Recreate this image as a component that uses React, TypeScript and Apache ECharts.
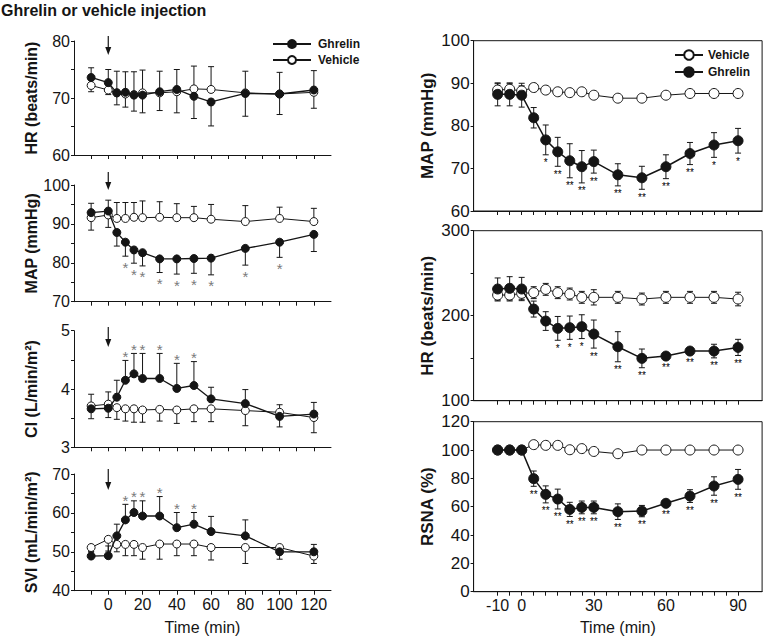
import React, { useEffect, useRef } from 'react';
import * as echarts from 'echarts';

// ---------- DATA ----------
const leftTimes = [-10, 0, 5, 10, 15, 20, 30, 40, 50, 60, 80, 100, 120];
const rightTimes = [-10, -5, 0, 5, 10, 15, 20, 25, 30, 40, 50, 60, 70, 80, 90];

// Left: HR (beats/min)
const lHrGhrelin = [73.6, 72.7, 70.9, 71.0, 70.5, 70.5, 71.1, 71.5, 70.3, 69.3, 70.8, 70.7, 71.4];
const lHrGhrelinErr = [1.7, 2.3, 3.8, 3.6, 4.1, 4.4, 3.6, 3.5, -3.9, -4.2, 3.9, 3.8, 3.4];
const lHrVehicle = [72.2, 71.4, 70.9, 70.7, 70.6, 70.9, 70.9, 71.1, 71.6, 71.5, 70.9, 70.7, 71.0];
const lHrVehicleErr = [-1.1, -0.8, -2.1, -2.3, -2.9, -3.5, -3.1, -3.7, 4.0, 4.0, -4.1, -3.6, -2.8];
const noStars = ['', '', '', '', '', '', '', '', '', '', '', '', '', '', ''];

// Left: MAP (mmHg)
const lMapGhrelin = [92.9, 93.3, 87.8, 85.3, 83.3, 82.6, 81.0, 81.0, 81.1, 81.2, 83.7, 85.3, 87.3];
const lMapGhrelinErr = [-4.5, -4.2, -3.5, -3.6, -3.4, -3.4, -3.5, -3.9, -3.8, -4.3, -4.3, -3.9, -4.4];
const lMapVehicle = [91.6, 92.3, 91.4, 91.4, 91.7, 91.6, 91.7, 91.6, 91.6, 91.2, 90.6, 91.4, 90.6];
const lMapVehicleErr = [3.7, 3.8, 4.1, 4.1, 3.8, 4.3, 4.0, 3.6, 2.9, 3.8, 4.1, 2.9, 3.4];
const lMapStars = ['', '', '', '*', '*', '*', '*', '*', '*', '*', '*', '*', ''];

// Left: CI (L/min/m2)
const lCiGhrelin = [3.66, 3.67, 3.86, 4.15, 4.26, 4.18, 4.18, 4.01, 4.06, 3.83, 3.75, 3.53, 3.57];
const lCiGhrelinErr = [0.25, 0.28, 0.29, 0.34, 0.35, 0.43, 0.43, 0.43, 0.41, 0.2, 0.24, 0.2, 0.2];
const lCiVehicle = [3.71, 3.74, 3.68, 3.66, 3.66, 3.64, 3.65, 3.64, 3.66, 3.66, 3.63, 3.6, 3.51];
const lCiVehicleErr = [-0.22, -0.23, -0.2, -0.21, -0.23, -0.21, -0.2, -0.23, -0.22, -0.22, -0.26, -0.25, -0.26];
const lCiStars = ['', '', '', '*', '*', '*', '*', '*', '*', '', '', '', ''];

// Left: SVI (mL/min/m2)
const lSviGhrelin = [48.9, 49.0, 54.1, 58.2, 60.1, 59.2, 59.2, 56.2, 57.1, 55.2, 54.1, 50.0, 50.0];
const lSviGhrelinErr = [1.0, 2.5, 3.0, 4.0, 3.0, 3.9, 5.0, 3.9, 3.0, 3.9, 4.1, 1.6, 1.9];
const lSviVehicle = [51.1, 53.2, 51.9, 51.9, 51.9, 51.1, 52.0, 52.0, 52.0, 51.1, 51.1, 51.1, 48.9];
const lSviVehicleErr = [-1.0, -3.0, -1.9, -2.9, -2.9, -3.0, -3.9, -3.0, -3.0, -3.2, -4.1, -3.0, -1.9];
const lSviStars = ['', '', '', '*', '*', '*', '*', '*', '*', '', '', '', ''];

// Right: MAP (mmHg)
const rMapVehicle = [88.4, 88.6, 88.2, 89.0, 88.4, 88.0, 87.8, 88.0, 87.2, 86.5, 86.5, 87.2, 87.6, 87.6, 87.6];
const rMapVehicleErr = [1.5, 1.3, 1.2, 0.8, 0.8, 0.8, 0.8, 0.8, 0.8, 0.8, 0.8, 0.8, 0.8, 0.8, 0.8];
const rMapGhrelin = [87.4, 87.4, 87.2, 81.9, 76.7, 73.9, 71.8, 70.4, 71.6, 68.5, 67.8, 70.4, 73.5, 75.5, 76.5];
const rMapGhrelinErr = [2.7, 2.7, 2.8, 2.4, 3.5, 3.4, 4.0, 3.8, 2.7, 2.6, 2.7, 2.8, 2.6, 2.9, 2.9];
const rMapStars = ['', '', '', '', '*', '**', '**', '**', '**', '**', '**', '**', '**', '*', '*'];

// Right: HR (beats/min)
const rHrVehicle = [224.3, 224.3, 226.3, 227.1, 231.0, 227.1, 225.5, 221.6, 221.6, 221.6, 219.6, 221.6, 221.6, 221.6, 219.6];
const rHrVehicleErr = [7, 7, 7, 7, 7, 7, 7, 7, 9, 7, 7, 7, 7, 7, 8];
const rHrGhrelin = [231.4, 232.2, 231.4, 207.8, 193.7, 185.1, 185.9, 187.1, 178.4, 163.5, 149.8, 152.5, 158.4, 158.4, 162.7];
const rHrGhrelinErr = [13, 13.7, 13.7, 9.4, 11, 14, 13.7, 14, 16.5, 17.7, 11, 4, 4, 8, 9.5];
const rHrStars = ['', '', '', '', '', '*', '*', '*', '**', '**', '**', '**', '**', '**', '**'];

// Right: RSNA (%)
const rRsnaVehicle = [100, 100, 100, 103.8, 103.3, 103.3, 100.2, 101, 99, 97.4, 100, 100, 100, 100, 100];
const rRsnaVehicleErr = [0.8, 0.8, 0.8, 0.8, 0.8, 0.8, 0.8, 0.8, 0.8, 0.8, 0.8, 0.8, 0.8, 0.8, 0.8];
const rRsnaGhrelin = [100, 100, 100, 79.8, 68.7, 65.4, 58.1, 59.5, 59.5, 56.5, 56.9, 62.4, 67.5, 74.6, 79.3];
const rRsnaGhrelinErr = [1, 1, 1, 5.4, 6, 7, 5, 4.5, 4.5, 5.5, 4, 2, 4.5, 6.5, 7];
const rRsnaStars = ['', '', '', '**', '**', '**', '**', '**', '**', '**', '**', '**', '**', '**', '**'];

// Axis ticks / labels
const leftXTicks = [-10, 0, 10, 20, 30, 40, 50, 60, 70, 80, 90, 100, 110, 120];
const leftXLabels = [0, 20, 40, 60, 80, 100, 120];
const rightXTicks = [-10, -5, 0, 5, 10, 15, 20, 25, 30, 35, 40, 45, 50, 55, 60, 65, 70, 75, 80, 85, 90];
const rightXLabels = [-10, 0, 30, 60, 90];

const lHrTicks = [60, 65, 70, 75, 80];
const lHrLabels = [60, 70, 80];
const lMapTicks = [70, 75, 80, 85, 90, 95, 100];
const lMapLabels = [70, 80, 90, 100];
const lCiTicks = [3, 3.5, 4, 4.5, 5];
const lCiLabels = [3, 4, 5];
const lSviTicks = [40, 45, 50, 55, 60, 65, 70];
const lSviLabels = [40, 50, 60, 70];
const rMapTicks = [60, 70, 80, 90, 100];
const rHrTicks = [100, 150, 200, 250, 300];
const rHrLabels = [100, 200, 300];
const rRsnaTicks = [0, 20, 40, 60, 80, 100, 120];

const FONT = "'Liberation Sans', Arial, Helvetica, sans-serif";
const INK = '#151515';

function lineSeries(name: string, times: number[], vals: number[], idx: number, filled: boolean, size: number, width: number, z: number) {
  return {
    type: 'line',
    name,
    xAxisIndex: idx,
    yAxisIndex: idx,
    data: times.map((t, i) => [t, vals[i]]),
    symbol: 'circle',
    symbolSize: size,
    showAllSymbol: true,
    lineStyle: { color: INK, width },
    itemStyle: { color: filled ? INK : '#ffffff', borderColor: INK, borderWidth: 1 },
    emphasis: { disabled: true },
    silent: true,
    z,
  };
}

function errSeries(
  times: number[], vals: number[], errs: number[], idx: number, sym: boolean,
  stars: string[], starAbove: boolean, starColor: string, starSize: number, starOffset: number, capW: number
) {
  return {
    type: 'custom',
    xAxisIndex: idx,
    yAxisIndex: idx,
    clip: false,
    silent: true,
    z: 1,
    data: times.map((t, i) => [t, vals[i], errs[i]]),
    renderItem: (params: any, api: any) => {
      const i = params.dataIndex;
      const x = api.value(0);
      const y = api.value(1);
      const e = api.value(2);
      const p0 = api.coord([x, y]);
      const ends = sym ? [y + e, y - e] : [y + e];
      const children: any[] = [];
      ends.forEach((v) => {
        const p = api.coord([x, v]);
        children.push({ type: 'line', shape: { x1: p0[0], y1: p0[1], x2: p[0], y2: p[1] }, style: { stroke: INK, lineWidth: 1 } });
        children.push({ type: 'line', shape: { x1: p[0] - capW / 2, y1: p[1], x2: p[0] + capW / 2, y2: p[1] }, style: { stroke: INK, lineWidth: 1 } });
      });
      const s = stars[i];
      if (s) {
        const endV = starAbove ? y + Math.abs(e) : y - Math.abs(e);
        const p = api.coord([x, endV]);
        children.push({
          type: 'text',
          x: p[0],
          y: p[1] + (starAbove ? -starOffset : starOffset),
          style: { text: s, fill: starColor, font: `${starSize}px ${FONT}`, align: 'center', verticalAlign: 'middle' },
        });
      }
      return { type: 'group', children };
    },
  };
}

function xAxisDef(idx: number, min: number, max: number, ticks: number[], labels: number[], showLabels: boolean, name: string, nameGap: number) {
  return {
    type: 'value',
    gridIndex: idx,
    min,
    max,
    name,
    nameLocation: 'middle',
    nameGap,
    nameTextStyle: { fontSize: 16, color: INK, fontFamily: FONT },
    axisLine: { show: true, onZero: false, lineStyle: { color: INK, width: 1 } },
    axisTick: { show: true, length: 4, customValues: ticks, lineStyle: { color: INK, width: 1 } },
    axisLabel: { show: showLabels, customValues: labels, fontSize: 16, color: INK, fontFamily: FONT, margin: 6 },
    splitLine: { show: false },
  };
}

function yAxisDef(idx: number, min: number, max: number, ticks: number[], labels: number[], name: string, nameGap: number, labelSize: number, nameSize: number) {
  return {
    type: 'value',
    gridIndex: idx,
    min,
    max,
    name,
    nameLocation: 'middle',
    nameGap,
    nameTextStyle: { fontSize: nameSize, fontWeight: 'bold', color: INK, fontFamily: FONT },
    axisLine: { show: true, onZero: false, lineStyle: { color: INK, width: 1 } },
    axisTick: { show: true, length: 3, customValues: ticks, lineStyle: { color: INK, width: 1 } },
    axisLabel: { customValues: labels, fontSize: labelSize, color: INK, fontFamily: FONT, margin: 4 },
    splitLine: { show: false },
  };
}

export default function App() {
  const ref = useRef<HTMLDivElement>(null);

  useEffect(() => {
    if (!ref.current) return;
    const chart = echarts.init(ref.current, null, { renderer: 'svg' });

    const LX = 74, LW = 257;
    const RX = 473.6, RW = 288.5;
    const grids = [
      { left: LX, top: 41, width: LW, height: 114 },
      { left: LX, top: 185, width: LW, height: 116.7 },
      { left: LX, top: 330.7, width: LW, height: 116.6 },
      { left: LX, top: 474, width: LW, height: 116.7 },
      { left: RX, top: 40.7, width: RW, height: 170.3, show: true, borderColor: INK, borderWidth: 1 },
      { left: RX, top: 230.7, width: RW, height: 170, show: true, borderColor: INK, borderWidth: 1 },
      { left: RX, top: 421.7, width: RW, height: 170, show: true, borderColor: INK, borderWidth: 1 },
    ];

    const xAxes = [
      xAxisDef(0, -20, 130, leftXTicks, leftXLabels, false, '', 30),
      xAxisDef(1, -20, 130, leftXTicks, leftXLabels, false, '', 30),
      xAxisDef(2, -20, 130, leftXTicks, leftXLabels, false, '', 30),
      xAxisDef(3, -20, 130, leftXTicks, leftXLabels, true, 'Time (min)', 29),
      xAxisDef(4, -20, 100, rightXTicks, rightXLabels, false, '', 30),
      xAxisDef(5, -20, 100, rightXTicks, rightXLabels, false, '', 30),
      xAxisDef(6, -20, 100, rightXTicks, rightXLabels, true, 'Time (min)', 28),
    ];
    const yAxes = [
      yAxisDef(0, 60, 80, lHrTicks, lHrLabels, 'HR (beats/min)', 35, 16, 16),
      yAxisDef(1, 70, 100, lMapTicks, lMapLabels, 'MAP (mmHg)', 35, 16, 16),
      yAxisDef(2, 3, 5, lCiTicks, lCiLabels, 'CI (L/min/m²)', 35, 16, 16),
      yAxisDef(3, 40, 70, lSviTicks, lSviLabels, 'SVI (mL/min/m²)', 35, 16, 16),
      yAxisDef(4, 60, 100, rMapTicks, rMapTicks, 'MAP (mmHg)', 38, 17, 17),
      yAxisDef(5, 100, 300, rHrTicks, rHrLabels, 'HR (beats/min)', 38, 17, 17),
      yAxisDef(6, 0, 120, rRsnaTicks, rRsnaTicks, 'RSNA (%)', 38, 17, 17),
    ];

    const GREY = '#7a7a7a';
    const series: any[] = [
      // left HR
      errSeries(leftTimes, lHrGhrelin, lHrGhrelinErr, 0, false, noStars, true, GREY, 15, 4, 6),
      errSeries(leftTimes, lHrVehicle, lHrVehicleErr, 0, false, noStars, false, GREY, 15, 11, 6),
      lineSeries('Ghrelin', leftTimes, lHrGhrelin, 0, true, 8, 1.3, 4),
      lineSeries('Vehicle', leftTimes, lHrVehicle, 0, false, 8, 1, 3),
      // left MAP
      errSeries(leftTimes, lMapGhrelin, lMapGhrelinErr, 1, false, lMapStars, false, GREY, 15, 11, 6),
      errSeries(leftTimes, lMapVehicle, lMapVehicleErr, 1, false, noStars, true, GREY, 15, 4, 6),
      lineSeries('Ghrelin', leftTimes, lMapGhrelin, 1, true, 8, 1.3, 4),
      lineSeries('Vehicle', leftTimes, lMapVehicle, 1, false, 8, 1, 3),
      // left CI
      errSeries(leftTimes, lCiGhrelin, lCiGhrelinErr, 2, false, lCiStars, true, GREY, 15, 4, 6),
      errSeries(leftTimes, lCiVehicle, lCiVehicleErr, 2, false, noStars, false, GREY, 15, 11, 6),
      lineSeries('Ghrelin', leftTimes, lCiGhrelin, 2, true, 8, 1.3, 4),
      lineSeries('Vehicle', leftTimes, lCiVehicle, 2, false, 8, 1, 3),
      // left SVI
      errSeries(leftTimes, lSviGhrelin, lSviGhrelinErr, 3, false, lSviStars, true, GREY, 15, 4, 6),
      errSeries(leftTimes, lSviVehicle, lSviVehicleErr, 3, false, noStars, false, GREY, 15, 11, 6),
      lineSeries('Ghrelin', leftTimes, lSviGhrelin, 3, true, 8, 1.3, 4),
      lineSeries('Vehicle', leftTimes, lSviVehicle, 3, false, 8, 1, 3),
      // right MAP
      errSeries(rightTimes, rMapVehicle, rMapVehicleErr, 4, true, noStars, false, INK, 10, 8, 6),
      errSeries(rightTimes, rMapGhrelin, rMapGhrelinErr, 4, true, rMapStars, false, '#000', 10, 8, 6),
      lineSeries('Vehicle', rightTimes, rMapVehicle, 4, false, 10, 1, 3),
      lineSeries('Ghrelin', rightTimes, rMapGhrelin, 4, true, 10, 1.5, 4),
      // right HR
      errSeries(rightTimes, rHrVehicle, rHrVehicleErr, 5, true, noStars, false, INK, 10, 8, 6),
      errSeries(rightTimes, rHrGhrelin, rHrGhrelinErr, 5, true, rHrStars, false, '#000', 10, 8, 6),
      lineSeries('Vehicle', rightTimes, rHrVehicle, 5, false, 10, 1, 3),
      lineSeries('Ghrelin', rightTimes, rHrGhrelin, 5, true, 10, 1.5, 4),
      // right RSNA
      errSeries(rightTimes, rRsnaVehicle, rRsnaVehicleErr, 6, true, noStars, false, INK, 10, 8, 6),
      errSeries(rightTimes, rRsnaGhrelin, rRsnaGhrelinErr, 6, true, rRsnaStars, false, '#000', 10, 8, 6),
      lineSeries('Vehicle', rightTimes, rRsnaVehicle, 6, false, 10, 1, 3),
      lineSeries('Ghrelin', rightTimes, rRsnaGhrelin, 6, true, 10, 1.5, 4),
    ];

    chart.setOption({
      animation: false,
      backgroundColor: '#ffffff',
      textStyle: { fontFamily: FONT },
      title: {
        text: 'Ghrelin or vehicle injection',
        left: 1,
        top: 2,
        padding: 0,
        textStyle: { fontSize: 16, fontWeight: 'bold', color: INK, fontFamily: FONT },
      },
      legend: [
        {
          data: ['Ghrelin', 'Vehicle'],
          orient: 'vertical',
          left: 267,
          top: 33,
          itemWidth: 38,
          itemHeight: 10,
          itemGap: 4,
          selectedMode: false,
          textStyle: { fontSize: 12, fontWeight: 'bold', color: INK, fontFamily: FONT, padding: [0, 0, 0, 2] },
        },
        {
          data: ['Vehicle', 'Ghrelin'],
          orient: 'vertical',
          left: 669,
          top: 44,
          itemWidth: 28,
          itemHeight: 12,
          itemGap: 5,
          selectedMode: false,
          textStyle: { fontSize: 12, fontWeight: 'bold', color: INK, fontFamily: FONT },
        },
      ],
      grid: grids,
      xAxis: xAxes,
      yAxis: yAxes,
      series,
    });

    // Injection arrows at t = 0 on the left panels
    const arrowSpans = [
      [36, 55],
      [172, 190],
      [327, 347],
      [469, 490],
    ];
    const arrows: any[] = [];
    arrowSpans.forEach((span, i) => {
      const px = chart.convertToPixel({ xAxisIndex: i }, 0) as number;
      const [top, tip] = span;
      arrows.push({
        type: 'line',
        shape: { x1: px, y1: top, x2: px, y2: tip - 6 },
        style: { stroke: INK, lineWidth: 1.2 },
        silent: true,
      });
      arrows.push({
        type: 'polygon',
        shape: { points: [[px - 3, tip - 8], [px + 3, tip - 8], [px, tip]] },
        style: { fill: INK },
        silent: true,
      });
    });
    chart.setOption({ graphic: arrows });

    return () => chart.dispose();
  }, []);

  return <div ref={ref} style={{ position: 'absolute', left: 0, top: 0, width: 765, height: 639 }} />;
}
